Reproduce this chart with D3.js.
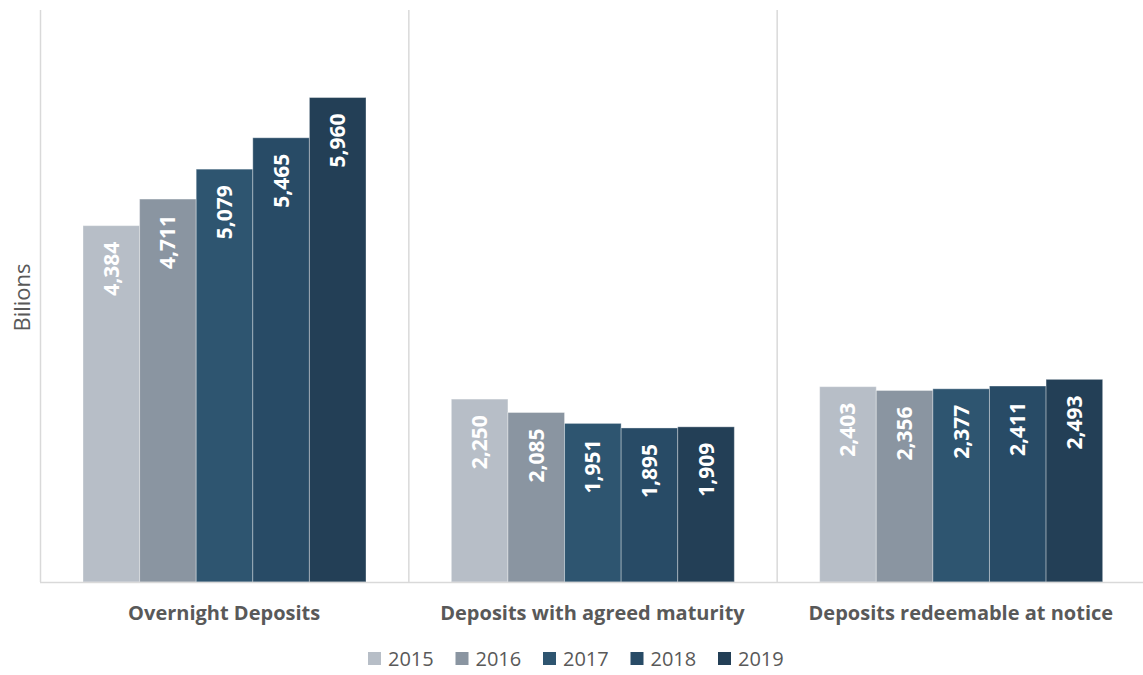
<!DOCTYPE html>
<html>
<head>
<meta charset="utf-8">
<script src="https://cdn.jsdelivr.net/npm/d3@7"></script>
<style>
  body { margin: 0; background: #fff; }
  svg { display: block; font-family: "Open Sans", sans-serif; }
</style>
</head>
<body>
<div id="chart"></div>
<script>
const categories = ['Overnight Deposits', 'Deposits with agreed maturity', 'Deposits redeemable at notice'];
const years = ['2015', '2016', '2017', '2018', '2019'];
const values = {
  '2015': [4384, 2250, 2403],
  '2016': [4711, 2085, 2356],
  '2017': [5079, 1951, 2377],
  '2018': [5465, 1895, 2411],
  '2019': [5960, 1909, 2493]
};
const colors = ['#b7bec7', '#8a95a1', '#2e5570', '#284b66', '#233f56'];
const yTitle = 'Bilions';

const width = 1143, height = 675;
const margin = { top: 13, right: 0, bottom: 93, left: 40 };
const plotRight = 1145;

const svg = d3.select('#chart').append('svg')
  .attr('width', width).attr('height', height);

const x = d3.scaleBand().domain(categories).range([margin.left, plotRight]);
const xSub = d3.scaleBand().domain(years).range([43, 326]);
const y = d3.scaleLinear().domain([0, 7000]).range([height - margin.bottom, margin.top]);
const color = d3.scaleOrdinal().domain(years).range(colors);

const base = y(0);

// separators
svg.selectAll('.sep').data(categories).join('line')
  .attr('class', 'sep')
  .attr('x1', d => x(d) + 0.5).attr('x2', d => x(d) + 0.5)
  .attr('y1', 10).attr('y2', base)
  .attr('stroke', '#d9d9d9').attr('stroke-width', 1.5);

// bars
const rows = [];
categories.forEach((c, ci) => years.forEach(yr => rows.push({ cat: c, year: yr, v: values[yr][ci] })));

svg.selectAll('.bar').data(rows).join('rect')
  .attr('class', 'bar')
  .attr('x', d => x(d.cat) + xSub(d.year))
  .attr('y', d => y(d.v))
  .attr('width', xSub.bandwidth())
  .attr('height', d => base - y(d.v))
  .attr('fill', d => color(d.year))
  .attr('stroke', 'rgba(255,255,255,0.35)').attr('stroke-width', 1);

// bar labels
svg.selectAll('.lbl').data(rows).join('text')
  .attr('class', 'lbl')
  .attr('transform', d => `translate(${x(d.cat) + xSub(d.year) + xSub.bandwidth() / 2 + 7.5},${y(d.v) + 16}) rotate(-90)`)
  .attr('text-anchor', 'end')
  .attr('fill', '#fff').attr('font-size', '21px').attr('font-weight', 'bold')
  .text(d => d3.format(',')(d.v));

// baseline
svg.append('line')
  .attr('x1', margin.left).attr('x2', plotRight)
  .attr('y1', base + 0.5).attr('y2', base + 0.5)
  .attr('stroke', '#d9d9d9').attr('stroke-width', 1.5);

// category labels
svg.selectAll('.cat').data(categories).join('text')
  .attr('class', 'cat')
  .attr('x', d => x(d) + x.bandwidth() / 2)
  .attr('y', 620)
  .attr('text-anchor', 'middle')
  .attr('fill', '#595959').attr('font-size', '20px').attr('font-weight', 'bold')
  .text(d => d);

// y title
svg.append('text')
  .attr('transform', `translate(30,${(margin.top + base) / 2}) rotate(-90)`)
  .attr('text-anchor', 'middle')
  .attr('fill', '#595959').attr('font-size', '22px')
  .text(yTitle);

// legend
const leg = svg.append('g').attr('transform', 'translate(368,652)');
years.forEach((yr, i) => {
  const g = leg.append('g').attr('transform', `translate(${i * 87.5},0)`);
  g.append('rect').attr('x', 0).attr('y', 0).attr('width', 13).attr('height', 13).attr('fill', color(yr));
  g.append('text').attr('x', 20).attr('y', 14).attr('fill', '#595959').attr('font-size', '20px').text(yr);
});
</script>
</body>
</html>
